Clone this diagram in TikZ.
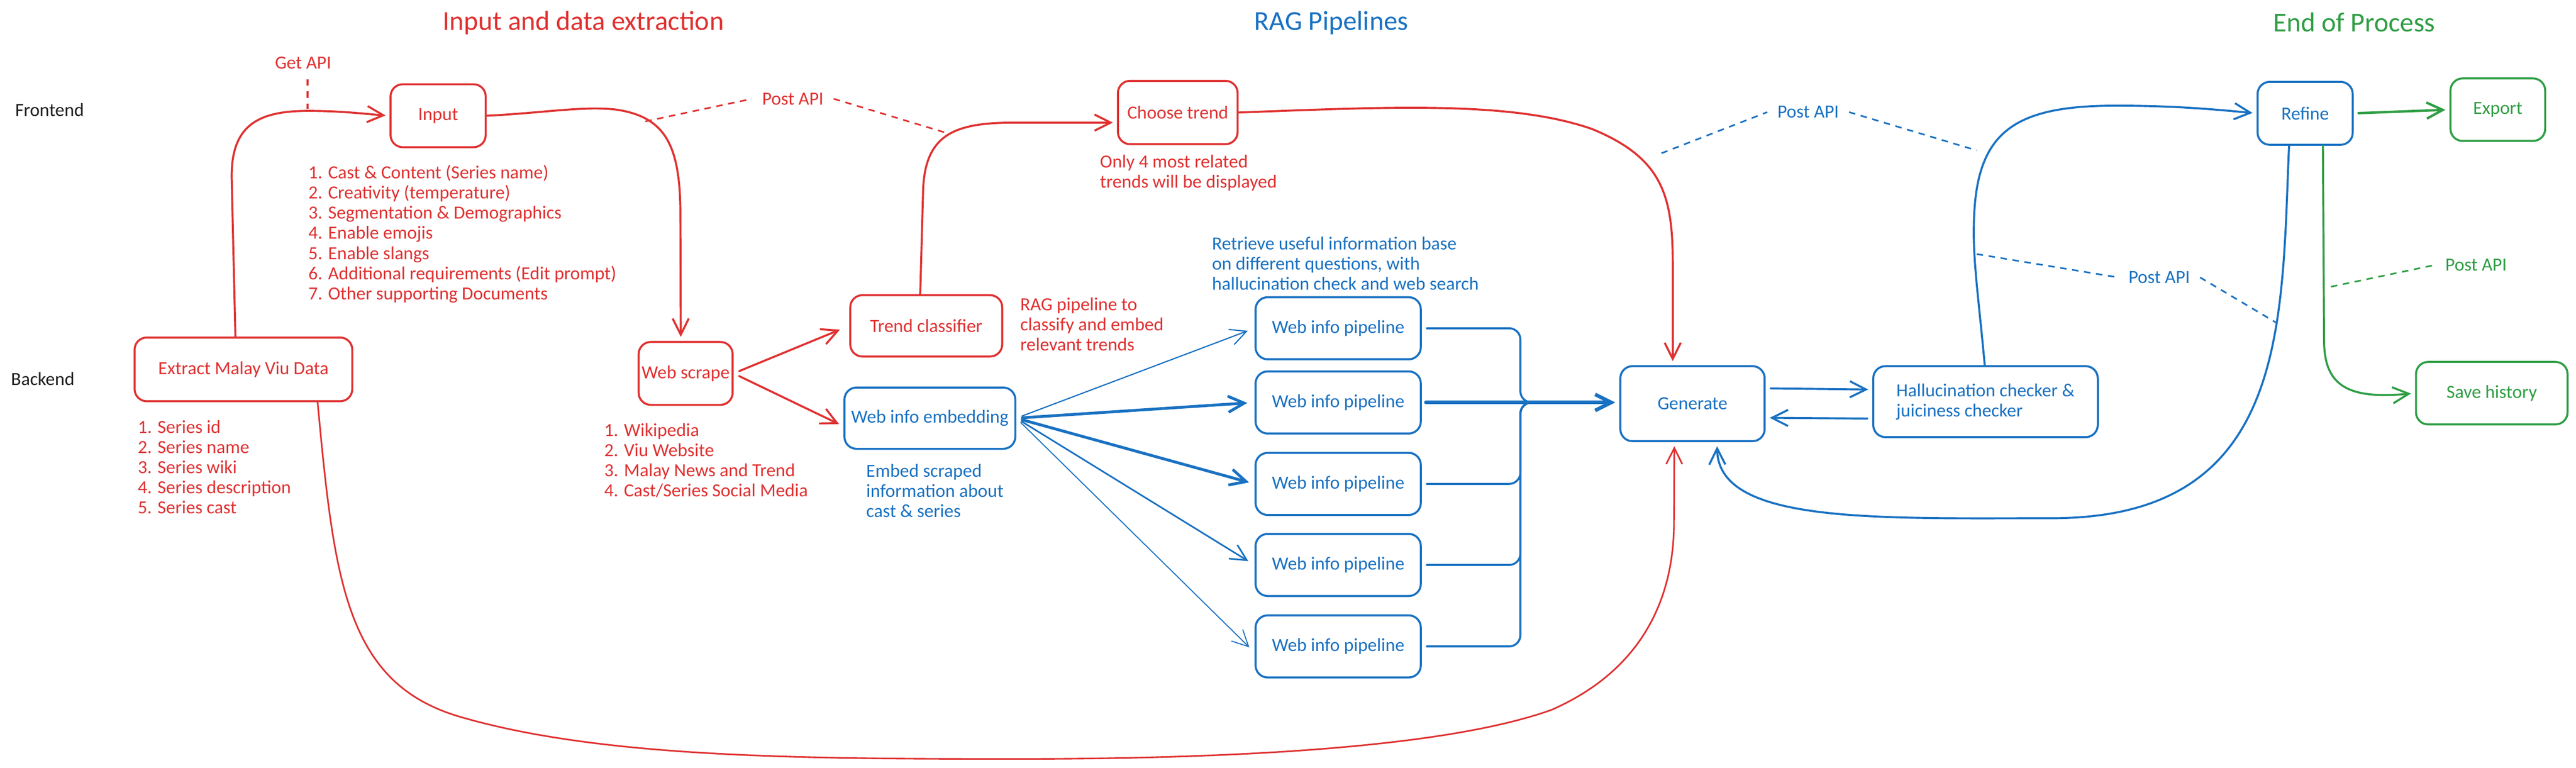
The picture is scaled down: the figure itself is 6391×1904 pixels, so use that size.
\documentclass[tikz,border=0pt]{standalone}
\usepackage{fontspec}
\setmainfont{Carlito}
\usetikzlibrary{arrows.meta,calc}
\definecolor{xred}{HTML}{E03131}
\definecolor{xblue}{HTML}{1971C2}
\definecolor{xgreen}{HTML}{2F9E44}
\definecolor{xblack}{HTML}{1E1E1E}
\newcommand\xbody{\fontsize{46}{50}\selectfont}
\newcommand\xtitle{\fontsize{68}{80}\selectfont}
\tikzset{
  boxbase/.style={draw, line width=5pt, rounded corners=30pt, inner sep=0pt, align=center, font=\xbody},
  rbox/.style={boxbase, xred, text=xred},
  bbox/.style={boxbase, xblue, text=xblue},
  gbox/.style={boxbase, xgreen, text=xgreen},
  txt/.style={inner sep=0pt, font=\xbody, align=left},
  lbl/.style={inner sep=25pt, font=\xbody},
  ttl/.style={inner sep=0pt, font=\xtitle},
  conn/.style={line width=5pt, line cap=round, line join=round,
    -{Straight Barb[length=40pt,width=40pt]}, shorten >=10pt},
  apidash/.style={line width=4pt, dash pattern=on 16pt off 14pt},
  bus/.style={line width=5pt, line cap=round, rounded corners=28pt, xblue}
}
\begin{document}
\begin{tikzpicture}[x=1pt,y=-1pt]
\fill[white] (0,0) rectangle (6391,1904);
\useasboundingbox (0,0) rectangle (6391,1904);

% titles and lane labels
\node[ttl, text=xred] (t1) at (1447,57) {Input and data extraction};
\node[ttl, text=xblue] (t2) at (3303,57) {RAG Pipelines};
\node[ttl, text=xgreen] (t3) at (5841,55) {End of Process};
\node[txt, text=xblack] (fe) at (123,273) {Frontend};
\node[txt, text=xblack] (be) at (106,940) {Backend};

% boxes
\node[rbox, minimum width=236pt, minimum height=156pt] (input) at (1087,287) {Input};
\node[rbox, minimum width=540pt, minimum height=158pt] (extract) at (604,916) {Extract Malay Viu Data};
\node[rbox, minimum width=233pt, minimum height=156pt] (webscrape) at (1701,926) {Web scrape};
\node[rbox, minimum width=297pt, minimum height=157pt] (choose) at (2922,279) {Choose trend};
\node[rbox, minimum width=377pt, minimum height=152pt] (trendcls) at (2298,808) {Trend classifier};
\node[bbox, minimum width=424pt, minimum height=152pt] (webemb) at (2307,1037) {Web info embedding};
\foreach \i/\y in {1/814,2/998,3/1200,4/1401,5/1603}
  \node[bbox, minimum width=410pt, minimum height=154pt] (pipe\i) at (3320,\y) {Web info pipeline};
\node[bbox, minimum width=358pt, minimum height=186pt] (generate) at (4199,1001) {Generate};
\node[bbox, minimum width=557pt, minimum height=176pt, align=left] (halluc) at (4926,996) {Hallucination checker \&\\juiciness checker};
\node[bbox, minimum width=236pt, minimum height=156pt] (refine) at (5719,281) {Refine};
\node[gbox, minimum width=235pt, minimum height=155pt] (export) at (6197,272) {Export};
\node[gbox, minimum width=376pt, minimum height=155pt] (save) at (6182,975) {Save history};

% notes (anchored at the baseline of their last line)
\node[txt, text=xred, anchor=base west] (inlist) at (765,743) {1. Cast \& Content (Series name)\\2. Creativity (temperature)\\3. Segmentation \& Demographics\\4. Enable emojis\\5. Enable slangs\\6. Additional requirements (Edit prompt)\\7. Other supporting Documents};
\node[txt, text=xred, anchor=base west] (exlist) at (342,1274) {1. Series id\\2. Series name\\3. Series wiki\\4. Series description\\5. Series cast};
\node[txt, text=xred, anchor=base west] (wslist) at (1499,1232) {1. Wikipedia\\2. Viu Website\\3. Malay News and Trend\\4. Cast/Series Social Media};
\node[txt, text=xred, anchor=base west] (only4) at (2729,466) {Only 4 most related\\trends will be displayed};
\node[txt, text=xred, anchor=base west] (ragnote) at (2531,870) {RAG pipeline to\\classify and embed\\relevant trends};
\node[txt, text=xblue, anchor=base west] (embnote) at (2149,1283) {Embed scraped\\information about\\cast \& series};
\node[txt, text=xblue, anchor=base west] (retrieve) at (3007,719) {Retrieve useful information base\\on different questions, with\\hallucination check and web search};

% API labels
\node[lbl, text=xred] (getapi) at (752,156) {Get API};
\node[lbl, text=xred] (post1) at (1967,245) {Post API};
\node[lbl, text=xblue] (post2) at (4486,278) {Post API};
\node[lbl, text=xblue] (post3) at (5357,688) {Post API};
\node[lbl, text=xgreen] (post4) at (6143,657) {Post API};
\coordinate (ga) at (763,270);
\coordinate (pa1) at (1601,301);
\coordinate (pa2) at (2346,329);
\coordinate (pb1) at (4122,380);
\coordinate (pb2) at (4904,373);
\coordinate (pc1) at (4904,630);
\coordinate (pc2) at (5647,800);
\coordinate (pd1) at (5783,711);
\draw[apidash, xred] (getapi.south -| ga) -- (ga);
\draw[apidash, xred] (pa1) -- (post1.west);
\draw[apidash, xred] (post1.east) -- (pa2);
\draw[apidash, xblue] (pb1) -- (post2.west);
\draw[apidash, xblue] (post2.east) -- (pb2);
\draw[apidash, xblue] (pc1) -- (post3.west);
\draw[apidash, xblue] (post3.east) -- (pc2);
\draw[apidash, xgreen] (pd1) -- (post4.west);

% red connectors
\draw[conn, xred] ([xshift=-20pt]extract.north) -- (575,450) .. controls (570,310) and (640,275) .. (765,275) .. controls (850,275) and (910,283) .. (input.west);
\draw[conn, xred] (input.east) .. controls (1350,280) and (1450,262) .. (1530,272) .. controls (1650,290) and (1686,360) .. (1688,520) -- ([xshift=-12pt]webscrape.north);
\draw[conn, xred, shorten <=15pt, shorten >=25pt] (webscrape.east) -- (trendcls.west);
\draw[conn, xred, shorten <=15pt, shorten >=12pt] (webscrape.east) -- ([yshift=-20pt]webemb.west);
\draw[conn, xred] ([xshift=-15pt]trendcls.north) -- (2290,480) .. controls (2292,330) and (2370,304) .. (2520,304) -- ([yshift=-25pt]choose.west);
\draw[conn, xred] (choose.east) .. controls (3450,265) and (3750,250) .. (3950,320) .. controls (4120,390) and (4150,480) .. (4150,650) -- ([xshift=-49pt]generate.north);
\draw[conn, xred, line width=4pt] ([xshift=184pt]extract.south) .. controls (830,1450) and (860,1700) .. (1150,1780) .. controls (1500,1880) and (2000,1882) .. (2525,1882) .. controls (3100,1882) and (3600,1850) .. (3850,1760) .. controls (4100,1650) and (4152,1450) .. (4153,1300) -- ([xshift=-45pt]generate.south);

% blue connectors
\draw[conn, xblue, line width=3pt, shorten <=15pt, shorten >=18pt] (webemb.east) -- (pipe1.west);
\draw[conn, xblue, line width=7pt, shorten <=15pt, shorten >=18pt] (webemb.east) -- (pipe2.west);
\draw[conn, xblue, line width=7pt, shorten <=15pt, shorten >=14pt] (webemb.east) -- (pipe3.west);
\draw[conn, xblue, line width=4pt, shorten <=15pt, shorten >=18pt] (webemb.east) -- (pipe4.west);
\draw[conn, xblue, line width=2.5pt, shorten <=15pt, shorten >=18pt] (webemb.east) -- ([yshift=-15pt]pipe5.west);
\coordinate (busj) at (3772,998);
\draw[bus] ([xshift=12pt]pipe1.east) -| (busj) -- ++(45,0);
\draw[bus] ([xshift=12pt]pipe3.east) -| (busj) -- ++(45,0);
\draw[bus] ([xshift=12pt]pipe4.east) -| (busj) -- ++(45,0);
\draw[bus] ([xshift=12pt]pipe5.east) -| (busj) -- ++(45,0);
\draw[conn, xblue, line width=9pt, shorten <=10pt] (pipe2.east) -- (pipe2.east -| generate.west);
\draw[conn, xblue, shorten <=12pt] ($(generate.east)+(0,-38)$) -- ($(halluc.west)+(0,-30)$);
\draw[conn, xblue, shorten <=12pt] ($(halluc.west)+(0,42)$) -- ($(generate.east)+(0,35)$);
\draw[conn, xblue] ([xshift=-2pt]halluc.north) .. controls (4910,750) and (4895,650) .. (4897,560) .. controls (4900,330) and (4990,262) .. (5250,262) .. controls (5400,262) and (5500,272) .. (refine.west);
\draw[conn, xblue] ([xshift=-40pt]refine.south) .. controls (5660,800) and (5680,1280) .. (5100,1285) .. controls (4650,1285) and (4262,1300) .. ([xshift=61pt]generate.south);

% green connectors
\draw[conn, xgreen, line width=6pt, shorten <=12pt] (refine.east) -- (export.west);
\draw[conn, xgreen] ([xshift=44pt]refine.south) -- (5766,850) .. controls (5768,960) and (5830,990) .. (save.west);
\end{tikzpicture}
\end{document}
